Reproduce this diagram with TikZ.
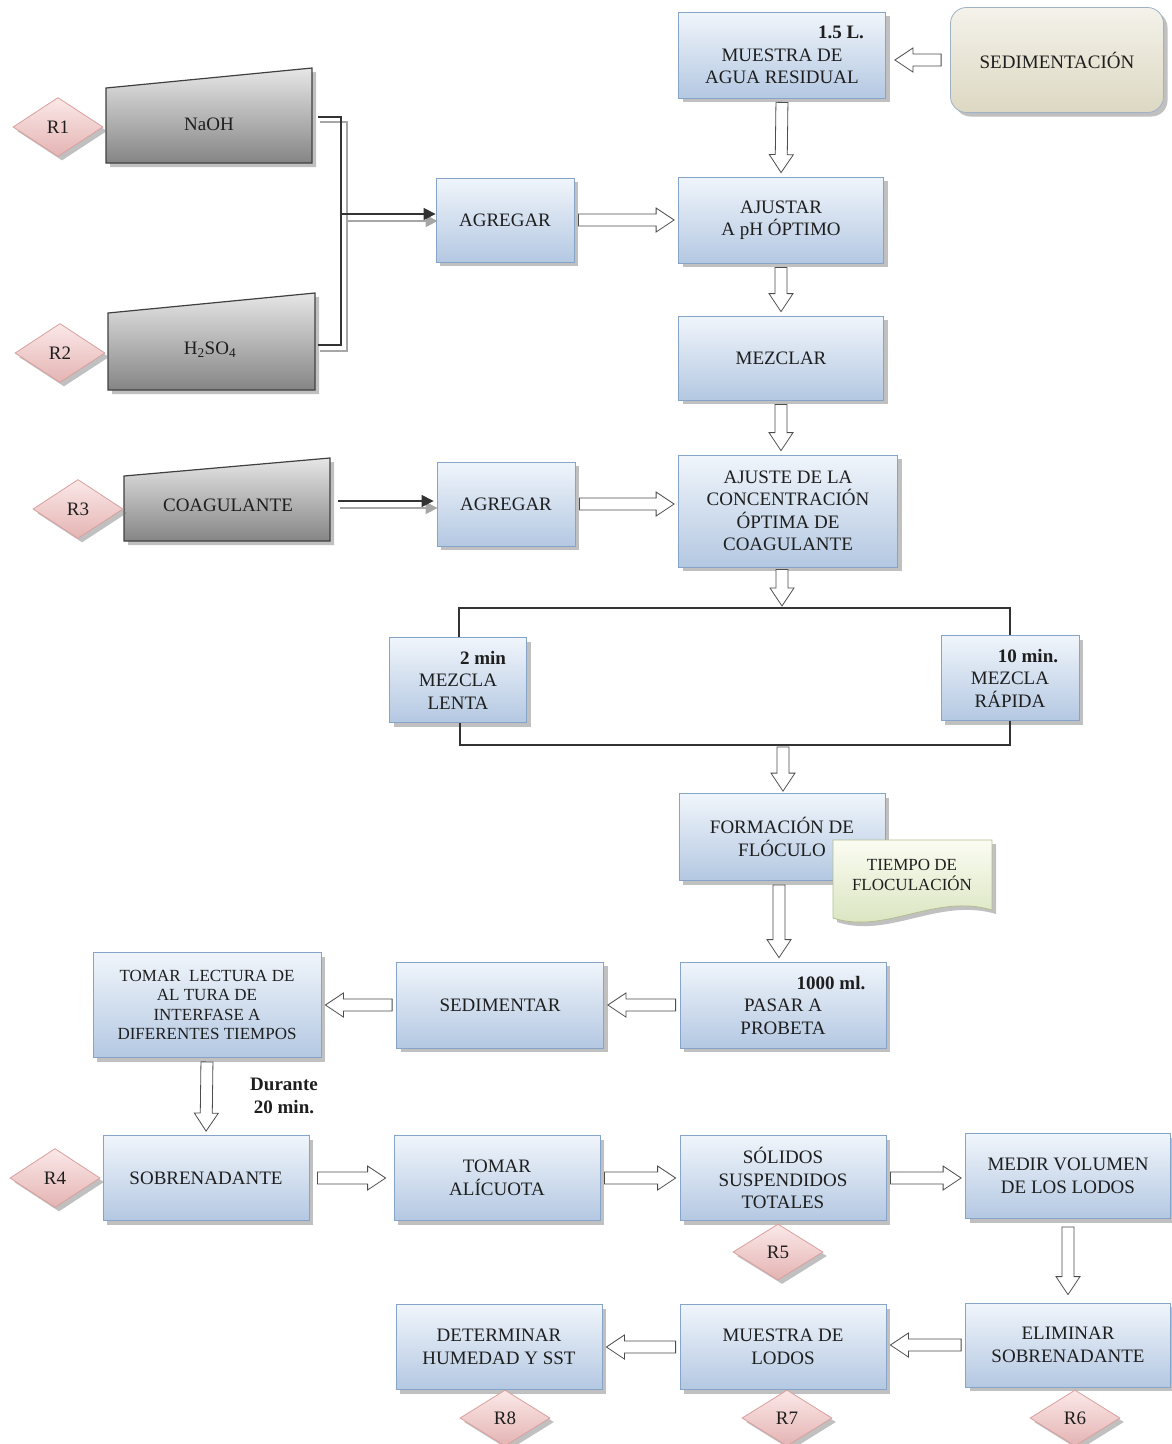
\documentclass[tikz,border=0pt]{standalone}
\usepackage{fontspec}
\setmainfont{Liberation Serif}
\usetikzlibrary{shapes.geometric,shadows,calc,arrows.meta}
\definecolor{boxtop}{HTML}{F0F5FB}
\definecolor{boxbot}{HTML}{B4C8E2}
\definecolor{boxline}{HTML}{86A3C8}
\definecolor{graytop}{HTML}{E6E6E6}
\definecolor{graybot}{HTML}{858585}
\definecolor{grayline}{HTML}{404040}
\definecolor{pinktop}{HTML}{FBE8E8}
\definecolor{pinkbot}{HTML}{E4B4B3}
\definecolor{pinkline}{HTML}{D9A09E}
\definecolor{beigetop}{HTML}{F4F2EA}
\definecolor{beigebot}{HTML}{DCD8C2}
\definecolor{beigeline}{HTML}{9FB1C6}
\definecolor{greentop}{HTML}{FBFCF2}
\definecolor{greenbot}{HTML}{D6E2BA}
\definecolor{greenline}{HTML}{B3BE90}
\definecolor{txt}{HTML}{1E1E1E}
\newcommand\mainfs{\fontsize{19}{22.5}\selectfont}
\newcommand\smallfs{\fontsize{17}{19.5}\selectfont}
\tikzset{
  shad/.style={drop shadow={shadow xshift=4pt,shadow yshift=-4pt,opacity=0.45,fill=black!55}},
  box/.style={draw=boxline, line width=0.8pt, top color=boxtop, bottom color=boxbot,
    minimum width=206pt, minimum height=86pt, align=center, font=\mainfs, text=txt,
    inner sep=2pt, shad},
  trap/.style={draw=grayline, line width=1.2pt, top color=graytop, bottom color=graybot, shad},
  rdiam/.style={diamond, draw=pinkline, line width=0.8pt, top color=pinktop, bottom color=pinkbot,
    minimum width=90pt, minimum height=59pt, inner sep=0pt, font=\mainfs, text=txt, shad},
  lbl/.style={font=\mainfs, text=txt, align=center},
  num/.style={font=\mainfs\bfseries, text=txt, align=center},
  hollow/.style={draw=black!70, line width=0.8pt, fill=white},
  conn/.style={draw=black!80, line width=1.3pt},
  connshade/.style={draw=black!35, line width=1.3pt},
}
\newcommand\harrow[3][4pt]{%
  \coordinate (hA) at ($(#2)!#1!(#3)$);
  \coordinate (hB) at ($(#3)!#1!(#2)$);
  \coordinate (hH) at ($(hB)!18pt!(hA)$);
  \draw[hollow] ($(hA)!6pt!90:(hB)$) -- ($(hH)!6pt!90:(hB)$) -- ($(hH)!12pt!90:(hB)$)
    -- (hB) -- ($(hH)!12pt!-90:(hB)$) -- ($(hH)!6pt!-90:(hB)$) -- ($(hA)!6pt!-90:(hB)$) -- cycle;
}
\begin{document}
\begin{tikzpicture}[x=1pt,y=-1pt]
\useasboundingbox (0,0) rectangle (1171,1444);

% ---- top right
\node[box, minimum width=207pt] (mu) at (782,55) {\hspace*{118pt}\textbf{1.5 L.}\\MUESTRA DE\\AGUA RESIDUAL};
\node[box, rounded corners=16pt, draw=beigeline, top color=beigetop, bottom color=beigebot,
  minimum width=213pt, minimum height=105pt] (sed) at (1057,60) {SEDIMENTACI\'ON};
\node[box, minimum width=205pt] (aj) at (781,220) {AJUSTAR\\A pH \'OPTIMO};
\node[box, minimum width=205pt, minimum height=84pt] (mz) at (781,358) {MEZCLAR};
\node[box, minimum width=219pt, minimum height=112pt] (ajc) at (788,511) {AJUSTE DE LA\\CONCENTRACI\'ON\\\'OPTIMA DE\\COAGULANTE};
\node[box, minimum width=138pt, minimum height=84pt] (ag1) at (505,220) {AGREGAR};
\node[box, minimum width=138pt, minimum height=84pt] (ag2) at (506,504) {AGREGAR};

% ---- reagents
\path[trap] (106,88) -- (312,68) -- (312,163) -- (106,163) -- cycle;
\path[trap] (108,313) -- (315,293) -- (315,390) -- (108,390) -- cycle;
\path[trap] (124,476) -- (330,458) -- (330,541) -- (124,541) -- cycle;
\node[lbl] (naoh) at (209,124) {NaOH};
\node[lbl] (h2so4) at (210,350) {H\textsubscript{2}SO\textsubscript{4}};
\node[lbl] (coag) at (228,505) {COAGULANTE};
\node[rdiam] (r1) at (58,127) {R1};
\node[rdiam] (r2) at (60,353) {R2};
\node[rdiam] (r3) at (78,509) {R3};

\coordinate (naohR) at (318,117);
\coordinate (h2R) at (318,345);
\coordinate (jn) at (341,214);
\coordinate (coagR) at (338,501);
% shade lines
\draw[connshade] ($(naohR)+(2,5)$) -| ($(jn)+(6,0)$) |- ($(h2R)+(2,6)$);
\draw[connshade, -{Triangle[length=12pt,width=12pt]}] ($(jn)+(6,7)$) -- ($(ag1.west |- jn)+(2,7)$);
\draw[connshade, -{Triangle[length=12pt,width=12pt]}] ($(coagR)+(2,7)$) -- ($(ag2.west |- coagR)+(1,7)$);
% main lines
\draw[conn] (naohR) -| (jn) |- (h2R);
\draw[conn, -{Triangle[length=12pt,width=12pt]}] (jn) -- (ag1.west |- jn);
\draw[conn, -{Triangle[length=12pt,width=12pt]}] (coagR) -- ($(ag2.west |- coagR)+(-3,0)$);

% ---- mixing branches
\node[box, minimum width=137pt, minimum height=85pt] (ml) at (458,680) {\hspace*{50pt}\textbf{2 min}\\MEZCLA\\LENTA};
\node[box, minimum width=138pt, minimum height=85pt] (mr) at (1010,678) {\hspace*{36pt}\textbf{10 min.}\\MEZCLA\\R\'APIDA};
\coordinate (bt) at (782,608);
\coordinate (bb) at (783,745);
\draw[conn, line width=1.1pt] (ml.north -| 459,0) |- (bt) -| (mr.north -| 1010,0);
\draw[conn, line width=1.1pt] (ml.south -| 460,0) |- (bb) -| (mr.south -| 1010,0);

% ---- floc
\node[box, minimum width=206pt, minimum height=87pt] (fo) at (782,837) {FORMACI\'ON DE\\FL\'OCULO};
\path[draw=greenline, line width=0.8pt, top color=greentop, bottom color=greenbot, shad]
  (833,840) -- (992,840) -- (992,910) .. controls (935,893) and (885,935) .. (833,918) -- cycle;
\node[lbl, font=\smallfs] (tdf) at (912,875) {TIEMPO DE\\FLOCULACI\'ON};

% ---- row 1000
\node[box] (pa) at (783,1005) {\hspace*{96pt}\textbf{1000 ml.}\\PASAR A\\PROBETA};
\node[box, minimum width=207pt] (sd) at (500,1005) {SEDIMENTAR};
\node[box, minimum width=228pt, minimum height=105pt, font=\smallfs] (tl) at (207,1005) {TOMAR\ \ LECTURA DE\\AL TURA DE\\INTERFASE A\\DIFERENTES TIEMPOS};
\node[num] (dur) at (284,1096) {Durante\\20 min.};

% ---- row 1178
\node[box, minimum height=85pt] (sob) at (206,1178) {SOBRENADANTE};
\node[box, minimum height=85pt] (ta) at (497,1178) {TOMAR\\AL\'ICUOTA};
\node[box, minimum height=85pt] (so) at (783,1178) {S\'OLIDOS\\SUSPENDIDOS\\TOTALES};
\node[box, minimum width=205pt, minimum height=85pt] (me) at (1068,1176) {MEDIR VOLUMEN\\DE LOS LODOS};
\node[rdiam] (r4) at (55,1178) {R4};
\node[rdiam, minimum height=56pt] (r5) at (778,1252) {R5};

% ---- row 1345
\node[box, minimum width=205pt, minimum height=84pt] (el) at (1068,1345) {ELIMINAR\\SOBRENADANTE};
\node[box, minimum height=85pt] (ld) at (783,1347) {MUESTRA DE\\LODOS};
\node[box, minimum height=85pt] (de) at (499,1347) {DETERMINAR\\HUMEDAD Y SST};
\node[rdiam, minimum height=56pt] (r6) at (1075,1418) {R6};
\node[rdiam, minimum height=56pt] (r7) at (787,1418) {R7};
\node[rdiam, minimum height=56pt] (r8) at (505,1418) {R8};

% ---- hollow arrows
\harrow[9pt]{sed.west}{sed.west -| mu.east}
\harrow{mu.south}{aj.north}
\harrow{ag1.east}{aj.west |- ag1.east}
\harrow{aj.south}{mz.north}
\harrow{mz.south}{ajc.north -| mz.south}
\harrow{ag2.east}{ajc.west |- ag2.east}
\harrow[2pt]{ajc.south -| bt}{bt}
\harrow[2pt]{bb}{fo.north -| bb}
\harrow{fo.south -| 779,0}{pa.north -| 779,0}
\harrow{pa.west}{sd.east}
\harrow{sd.west}{tl.east |- sd.west}
\harrow{tl.south}{sob.north}
\harrow[8pt]{sob.east}{ta.west}
\harrow{ta.east}{so.west}
\harrow{so.east}{me.west |- so.east}
\harrow[8pt]{me.south}{el.north}
\harrow{el.west}{ld.east |- el.west}
\harrow{ld.west}{de.east}
\end{tikzpicture}
\end{document}
